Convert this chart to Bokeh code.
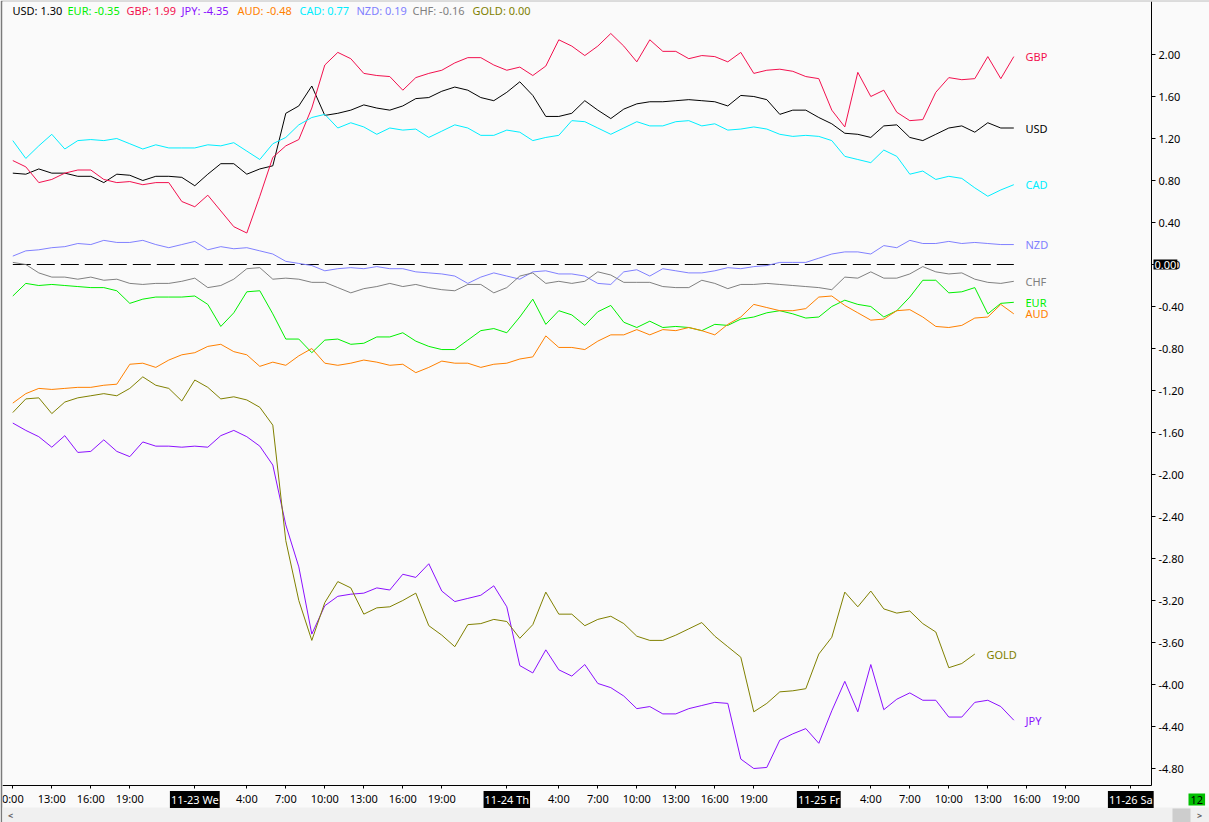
from bokeh.plotting import figure
from bokeh.models import (LinearAxis, FixedTicker, PrintfTickFormatter, Label, Range1d,
                          BoxAnnotation)
from bokeh.embed import file_html
from bokeh.resources import INLINE

# ---------------- data (hourly, hours since 11-22 00:00) ----------------
hours = list(range(10, 88))

usd = [0.87, 0.86, 0.91, 0.87, 0.87, 0.84, 0.84, 0.78, 0.86, 0.85, 0.80, 0.84, 0.84, 0.83, 0.75,
       0.86, 0.96, 0.96, 0.86, 0.91, 0.94, 1.44, 1.51, 1.70, 1.42, 1.44, 1.47, 1.52, 1.49, 1.47,
       1.51, 1.58, 1.59, 1.65, 1.69, 1.66, 1.59, 1.56, 1.64, 1.74, 1.61, 1.41, 1.41, 1.44, 1.56,
       1.47, 1.39, 1.48, 1.53, 1.55, 1.55, 1.56, 1.57, 1.56, 1.55, 1.51, 1.61, 1.60, 1.57,
       1.43, 1.47, 1.47, 1.40, 1.34, 1.25, 1.24, 1.21, 1.32, 1.33, 1.21, 1.18, 1.24, 1.30, 1.32,
       1.26, 1.35, 1.30, 1.30]
gbp = [0.99, 0.93, 0.78, 0.81, 0.87, 0.90, 0.90, 0.81, 0.78, 0.79, 0.76, 0.78, 0.78, 0.60, 0.55,
       0.66, 0.51, 0.36, 0.30, 0.65, 1.02, 1.13, 1.19, 1.49, 1.90, 2.02, 1.96, 1.82, 1.80, 1.79,
       1.66, 1.78, 1.82, 1.85, 1.92, 1.97, 1.97, 1.90, 1.85, 1.88, 1.80, 1.89, 2.14, 2.08, 1.99,
       2.08, 2.20, 2.08, 1.93, 2.14, 2.03, 2.03, 1.96, 1.99, 1.98, 1.93, 2.02, 1.82, 1.85,
       1.86, 1.84, 1.79, 1.77, 1.47, 1.31, 1.83, 1.60, 1.66, 1.45, 1.37, 1.38, 1.64, 1.78, 1.76,
       1.77, 1.98, 1.77, 1.98]
jpy = [-1.51, -1.58, -1.64, -1.74, -1.63, -1.79, -1.78, -1.67, -1.78, -1.83, -1.69, -1.73, -1.73,
       -1.74, -1.73, -1.74, -1.63, -1.58, -1.64, -1.73, -1.91, -2.48, -2.88, -3.52, -3.25, -3.16,
       -3.14, -3.13, -3.08, -3.10,
       -2.95, -2.98, -2.85, -3.11, -3.21, -3.18, -3.15, -3.06, -3.26, -3.82, -3.89, -3.67, -3.86,
       -3.92, -3.81, -3.99, -4.03, -4.11, -4.23, -4.21, -4.28, -4.28, -4.23, -4.20, -4.17, -4.18,
       -4.71, -4.80, -4.79,
       -4.53, -4.47, -4.42, -4.56, -4.25, -3.97, -4.26, -3.81, -4.24, -4.14, -4.08, -4.15, -4.15,
       -4.31, -4.31, -4.17, -4.15, -4.21, -4.34]
aud = [-1.32, -1.23, -1.18, -1.19, -1.18, -1.17, -1.17, -1.15, -1.14, -0.95, -0.94, -0.98, -0.91,
       -0.86, -0.84, -0.78, -0.76, -0.83, -0.86, -0.97, -0.93, -0.96, -0.87, -0.80, -0.94, -0.96,
       -0.94, -0.91, -0.93, -0.96,
       -0.95, -1.03, -0.98, -0.92, -0.94, -0.94, -0.98, -0.95, -0.94, -0.90, -0.88, -0.68, -0.79,
       -0.79, -0.81, -0.73, -0.67, -0.67, -0.62, -0.67, -0.62, -0.63, -0.60, -0.63, -0.67, -0.57,
       -0.50, -0.38, -0.41,
       -0.44, -0.44, -0.42, -0.31, -0.30, -0.39, -0.46, -0.53, -0.52, -0.44, -0.43, -0.50, -0.59,
       -0.60, -0.58, -0.51, -0.50, -0.38, -0.47]
eur = [-0.30, -0.18, -0.20, -0.19, -0.20, -0.21, -0.22, -0.22, -0.25, -0.37, -0.33, -0.31, -0.31,
       -0.31, -0.30, -0.38, -0.59, -0.46, -0.26, -0.25, -0.47, -0.71, -0.71, -0.84, -0.72, -0.71,
       -0.76, -0.75, -0.69, -0.69,
       -0.65, -0.73, -0.78, -0.81, -0.81, -0.72, -0.63, -0.61, -0.65, -0.50, -0.33, -0.57, -0.44,
       -0.48, -0.58, -0.45, -0.39, -0.55, -0.60, -0.54, -0.60, -0.59, -0.60, -0.63, -0.57, -0.58,
       -0.52, -0.50, -0.46,
       -0.44, -0.47, -0.51, -0.50, -0.40, -0.34, -0.38, -0.40, -0.50, -0.44, -0.31, -0.15, -0.15,
       -0.27, -0.26, -0.22, -0.47, -0.37, -0.36]
cad = [1.18, 1.01, 1.13, 1.24, 1.10, 1.18, 1.19, 1.18, 1.20, 1.15, 1.10, 1.14, 1.11, 1.11, 1.11,
       1.14, 1.13, 1.16, 1.08, 1.00, 1.15, 1.21, 1.33, 1.40, 1.43, 1.30, 1.35, 1.31, 1.24, 1.30,
       1.28, 1.29, 1.21, 1.27, 1.33, 1.30, 1.23, 1.23, 1.28, 1.26, 1.18, 1.21, 1.23, 1.37, 1.36,
       1.30, 1.24, 1.30, 1.36, 1.32, 1.32, 1.36, 1.37, 1.32, 1.34, 1.28, 1.29, 1.31, 1.29,
       1.24, 1.22, 1.23, 1.22, 1.18, 1.03, 1.00, 0.97, 1.09, 1.03, 0.86, 0.89, 0.81, 0.84, 0.82,
       0.73, 0.65, 0.71, 0.76]
nzd = [0.08, 0.13, 0.14, 0.16, 0.17, 0.20, 0.19, 0.23, 0.21, 0.21, 0.23, 0.19, 0.16, 0.19, 0.22,
       0.14, 0.17, 0.15, 0.16, 0.13, 0.10, 0.03, 0.01, -0.01, -0.06, -0.04, -0.03, -0.04, -0.02,
       -0.04,
       -0.04, -0.07, -0.08, -0.09, -0.11, -0.18, -0.12, -0.08, -0.11, -0.14, -0.07, -0.06, -0.09,
       -0.09, -0.11, -0.18, -0.19, -0.07, -0.05, -0.11, -0.04, -0.06, -0.08, -0.08, -0.06, -0.03,
       -0.04, -0.02, -0.01,
       0.02, 0.02, 0.02, 0.06, 0.10, 0.12, 0.12, 0.10, 0.18, 0.16, 0.23, 0.20, 0.20, 0.22, 0.20,
       0.21, 0.20, 0.19, 0.19]
chf = [0.02, 0.00, -0.08, -0.12, -0.12, -0.14, -0.12, -0.15, -0.14, -0.18, -0.19, -0.18, -0.18,
       -0.16, -0.13, -0.22, -0.20, -0.14, -0.04, -0.03, -0.14, -0.13, -0.14, -0.17, -0.17, -0.22,
       -0.27, -0.23, -0.21, -0.18,
       -0.21, -0.19, -0.22, -0.24, -0.25, -0.19, -0.19, -0.27, -0.22, -0.11, -0.08, -0.18, -0.16,
       -0.18, -0.16, -0.07, -0.10, -0.17, -0.17, -0.17, -0.21, -0.22, -0.22, -0.15, -0.18, -0.23,
       -0.19, -0.19, -0.18,
       -0.19, -0.20, -0.21, -0.22, -0.24, -0.12, -0.13, -0.07, -0.13, -0.13, -0.09, -0.02, -0.07,
       -0.09, -0.08, -0.14, -0.17, -0.18, -0.16]
gold = [-1.41, -1.28, -1.27, -1.42, -1.31, -1.27, -1.25, -1.23, -1.25, -1.18, -1.07, -1.15, -1.18,
        -1.30, -1.10, -1.17, -1.28, -1.26, -1.29, -1.36, -1.53, -2.63, -3.20, -3.58, -3.22, -3.02,
        -3.08, -3.33, -3.27, -3.26,
        -3.20, -3.13, -3.44, -3.53, -3.64, -3.43, -3.42, -3.38, -3.40, -3.56, -3.43, -3.12, -3.33,
        -3.33, -3.44, -3.38, -3.35, -3.42, -3.54, -3.58, -3.58, -3.53, -3.47, -3.41, -3.54, -3.64,
        -3.74, -4.26, -4.18,
        -4.07, -4.06, -4.04, -3.71, -3.55, -3.12, -3.26, -3.11, -3.28, -3.32, -3.30, -3.42, -3.50,
        -3.84, -3.80, -3.71]

names = ["USD", "EUR", "GBP", "JPY", "AUD", "CAD", "NZD", "CHF", "GOLD"]
series = [usd, eur, gbp, jpy, aud, cad, nzd, chf, gold]
legend_values = ["1.30", "-0.35", "1.99", "-4.35", "-0.48", "0.77", "0.19", "-0.16", "0.00"]
colors = ["#000000", "#00F000", "#F2104E", "#8B10FF", "#FF8000", "#00EEFF", "#8080FF",
          "#808080", "#808000"]

value_ticks = [2.0, 1.6, 1.2, 0.8, 0.4, 0.0, -0.4, -0.8, -1.2, -1.6, -2.0, -2.4, -2.8,
               -3.2, -3.6, -4.0, -4.4, -4.8]
time_ticks = [10, 13, 16, 19, 24, 28, 31, 34, 37, 40, 43, 48, 52, 55, 58, 61, 64, 67,
              72, 76, 79, 82, 85, 88, 91, 96]
time_labels = ["0:00", "13:00", "16:00", "19:00", "11-23 We", "4:00", "7:00", "10:00",
               "13:00", "16:00", "19:00", "11-24 Th", "4:00", "7:00", "10:00", "13:00",
               "16:00", "19:00", "11-25 Fr", "4:00", "7:00", "10:00", "13:00", "16:00",
               "19:00", "11-26 Sa"]
day_labels = {24: "11-23 We", 48: "11-24 Th", 72: "11-25 Fr", 96: "11-26 Sa"}

# ---------------- layout (pixels) ----------------
FONT = "Noto Sans"
FS = "11px"
PX_H = 13.0        # pixels per hour
PX_V = 105.0       # pixels per unit of value
W, H = 1209, 822
LEFT, TOP = 2, 1               # frame starts here; frame runs to the page edge
AXIS_X, AXIS_Y = 1151, 785     # page positions of the value axis and the time axis
X0 = hours[0] - (12.3 - LEFT) / PX_H
X1 = X0 + (W - LEFT) / PX_H
Y1 = (264.0 - TOP) / PX_V
Y0 = Y1 - (H - TOP) / PX_V


def hx(px):   # page pixel x -> hours
    return X0 + (px - LEFT) / PX_H


def vy(py):   # page pixel y -> value
    return Y1 - (py - TOP) / PX_V


p = figure(width=W, height=H, output_backend="svg", toolbar_location=None,
           x_range=Range1d(X0, X1), y_range=Range1d(Y0, Y1),
           x_axis_location=None, y_axis_location=None,
           min_border_left=LEFT, min_border_top=TOP, min_border_right=0,
           min_border_bottom=0,
           background_fill_color="#FAFAFA", border_fill_color="#7A7A7A",
           outline_line_color=None)
p.xgrid.visible = False
p.ygrid.visible = False

# scrollbar strip at the bottom of the window
p.add_layout(BoxAnnotation(left=hx(0), right=hx(W), top=vy(807), bottom=vy(H),
                           fill_color="#F0F0F0", fill_alpha=1.0, line_color=None))
p.add_layout(BoxAnnotation(left=hx(1172), right=hx(1190), top=vy(808), bottom=vy(H),
                           fill_color="#CDCDCD", fill_alpha=1.0, line_color=None))
for ax_px, arrow in ((10, "<"), (1199, ">")):
    p.add_layout(Label(x=hx(ax_px), y=vy(814.5), text=arrow, text_color="#606060",
                       text_font=FONT, text_font_size="9px", text_font_style="bold",
                       text_baseline="middle", text_align="center"))

yax = LinearAxis(ticker=FixedTicker(ticks=value_ticks),
                 formatter=PrintfTickFormatter(format="%.2f"),
                 fixed_location=hx(AXIS_X), bounds=(vy(AXIS_Y), Y1))
yax.major_tick_out = 4
yax.major_tick_in = 0
yax.minor_tick_line_color = None
yax.axis_line_color = "#000000"
yax.major_tick_line_color = "#000000"
yax.major_label_text_font = FONT
yax.major_label_text_font_size = FS
yax.major_label_text_color = "#000000"
yax.major_label_standoff = 3
p.add_layout(yax, "right")

overrides = {}
for t, lab in zip(time_ticks, time_labels):
    overrides[t] = "" if t in day_labels else lab
xax = LinearAxis(ticker=FixedTicker(ticks=time_ticks), major_label_overrides=overrides,
                 fixed_location=vy(AXIS_Y), bounds=(X0, hx(AXIS_X)))
xax.major_tick_out = 3
xax.major_tick_in = 0
xax.minor_tick_line_color = None
xax.axis_line_color = "#000000"
xax.major_tick_line_color = "#000000"
xax.major_label_text_font = FONT
xax.major_label_text_font_size = FS
xax.major_label_text_color = "#000000"
xax.major_label_standoff = 2
p.add_layout(xax, "below")

# zero line
p.line([hours[0], hours[-1]], [0, 0], line_color="#000000", line_width=1, line_dash="18 6")

for name, ys, col in zip(names, series, colors):
    xs = hours[:len(ys)]
    p.line(xs, ys, line_color=col, line_width=1)
    p.add_layout(Label(x=xs[-1] + 0.9, y=ys[-1], text=name, text_color=col,
                       text_font=FONT, text_font_size=FS, text_baseline="middle",
                       text_align="left"))

# top legend
legend_px = [12, 67, 126, 181, 237, 299, 356, 412, 472]
for name, val, col, lx in zip(names, legend_values, colors, legend_px):
    p.add_layout(Label(x=hx(lx), y=vy(10), text=f"{name}: {val}", text_color=col,
                       text_font=FONT, text_font_size=FS, text_baseline="middle",
                       text_align="left"))

# day markers on the time axis
for t, lab in day_labels.items():
    p.add_layout(Label(x=t, y=vy(799), text=lab, text_color="#FFFFFF",
                       background_fill_color="#000000", text_font=FONT,
                       text_font_size=FS, text_baseline="middle", text_align="center",
                       padding=1))
# current-value marker on the value axis
p.add_layout(Label(x=hx(1153), y=0.0, text="0.00", text_color="#FFFFFF",
                   background_fill_color="#000000", text_font=FONT, text_font_size=FS,
                   text_baseline="middle", text_align="left", padding=1))
# zoom indicator
p.add_layout(Label(x=hx(1188), y=vy(799), text="12", text_color="#000000",
                   background_fill_color="#00C000", text_font=FONT, text_font_size=FS,
                   text_baseline="middle", text_align="left", padding=2))

open("out.html", "w").write(file_html(p, INLINE))
